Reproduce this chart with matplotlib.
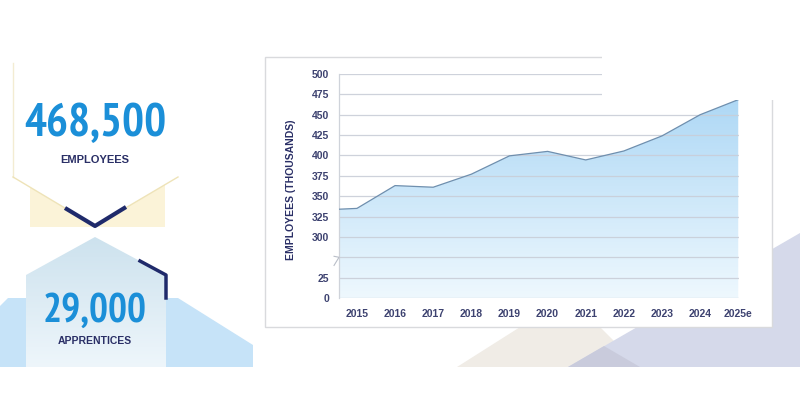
import numpy as np
import matplotlib
matplotlib.use("Agg")
import matplotlib.pyplot as plt
from matplotlib import font_manager as fm
from matplotlib.patches import Polygon, Rectangle
from matplotlib.colors import to_rgb

plt.rcParams['font.family'] = ['Liberation Sans', 'DejaVu Sans']

# data
years = ['2015', '2016', '2017', '2018', '2019', '2020', '2021', '2022', '2023', '2024', '2025e']
employees = [335, 363, 361, 377, 399.5, 405, 394.5, 405.5, 424, 450, 468.5]
y_ticks = [0, 25, 300, 325, 350, 375, 400, 425, 450, 475, 500]
y_tick_labels = [str(v) for v in y_ticks]
headline_employees = '468,500'
headline_apprentices = '29,000'

NAVY = '#2a2f66'
BLUE = '#1b8fd8'
TICK = '#3d4270'


def vgrad(top, bottom, n=256):
    c1 = np.array(to_rgb(top))
    c2 = np.array(to_rgb(bottom))
    t = np.linspace(0, 1, n)[:, None]
    return (c1 * (1 - t) + c2 * t)[:, None, :]


def narrow_bold_font():
    # look for a condensed / narrow bold face among the installed fonts
    best = None
    for f in fm.fontManager.ttflist:
        nm = f.name.lower()
        narrow = 'narrow' in nm or 'condensed' in nm or str(f.stretch) in (
            'condensed', 'semi-condensed', 'extra-condensed', 'ultra-condensed')
        if not narrow:
            continue
        w = f.weight if isinstance(f.weight, int) else fm.weight_dict.get(f.weight, 400)
        if w < 600 or f.style != 'normal':
            continue
        score = 0 if 'narrow' in nm else 1
        if best is None or score < best[0]:
            best = (score, f.fname)
    if best is None:
        return fm.FontProperties(family='DejaVu Sans', weight='bold')
    return fm.FontProperties(fname=best[1])


# broken y axis: 0-50 and 300-500 share the same step, 50-300 squeezed
def fwd(v):
    v = np.asarray(v, dtype=float)
    return np.where(v >= 300, 3 + (v - 300) / 25,
                    np.where(v <= 50, v / 25, 2 + (v - 50) / 250))


def inv(p):
    p = np.asarray(p, dtype=float)
    return np.where(p >= 3, 300 + (p - 3) * 25,
                    np.where(p <= 2, p * 25, 50 + (p - 2) * 250))


fig = plt.figure(figsize=(8, 4), dpi=100)

# ---- background / decorations in pixel coords ----
bg = fig.add_axes([0, 0, 1, 1], zorder=-1)
bg.set_xlim(0, 800)
bg.set_ylim(400, 0)
bg.axis('off')

# bottom right shapes
bg.add_patch(Polygon([(457, 367), (569, 296), (640, 367)], closed=True,
                     facecolor='#f0ece6', edgecolor='none'))
bg.add_patch(Polygon([(568, 367), (800, 233), (800, 367)], closed=True,
                     facecolor='#d5d9ea', edgecolor='none'))
bg.add_patch(Polygon([(568, 367), (604, 346), (640, 367)], closed=True,
                     facecolor='#c9cbdc', edgecolor='none'))

# chart card
bg.add_patch(Rectangle((265, 57), 507, 270, facecolor='white',
                       edgecolor='#d9dadd', lw=1))

# top left badge
bg.add_patch(Rectangle((30, 177), 135, 50, facecolor='#fbf3d8', edgecolor='none'))
bg.add_patch(Polygon([(13, 40), (13, 177), (95, 226), (178, 177), (178, 40)],
                     closed=True, facecolor='white', edgecolor='none'))
bg.plot([13, 13], [63, 177], color='#f3ecd2', lw=1)
bg.plot([13, 95, 178], [177, 226, 177], color='#eee3b8', lw=1)
bg.plot([65, 95, 126], [208, 226, 207], color='#1f2a6b', lw=3, solid_capstyle='butt')

# house
bg.add_patch(Polygon([(0, 367), (0, 306), (8, 298), (178, 298), (253, 345), (253, 367)],
                     closed=True, facecolor='#c6e3f8', edgecolor='none'))
house = Polygon([(26, 367), (26, 275), (95, 237), (166, 275), (166, 367)],
                closed=True, facecolor='none', edgecolor='none')
bg.add_patch(house)
im = bg.imshow(vgrad('#cde2ee', '#eef6fb'), extent=(26, 166, 367, 237),
               aspect='auto', zorder=2)
im.set_clip_path(house)
bg.plot([140, 166, 166], [261, 275, 298], color='#1f2a6b', lw=2.5, zorder=3)

big_font = narrow_bold_font()
t1 = bg.text(95, 124, headline_employees, ha='center', va='center', color=BLUE,
             fontsize=37, fontproperties=big_font)
t2 = bg.text(95, 311, headline_apprentices, ha='center', va='center', color=BLUE,
             fontsize=30, fontproperties=big_font, zorder=4)
# keep the big numbers inside their badges
renderer = fig.canvas.get_renderer()
for t, width in [(t1, 142), (t2, 104)]:
    t.set_fontsize(37 if t is t1 else 30)
    w = t.get_window_extent(renderer).width
    if w > width:
        t.set_fontsize(t.get_fontsize() * width / w)

bg.text(95, 160, 'EMPLOYEES', ha='center', va='center', color=NAVY,
        fontsize=8, fontweight='bold')
bg.text(95, 341, 'APPRENTICES', ha='center', va='center', color=NAVY,
        fontsize=7.5, fontweight='bold', zorder=4)

# ---- chart ----
ax = fig.add_axes([339 / 800, 1 - 298 / 400, 400 / 800, 224 / 400], zorder=1)
ax.set_facecolor('none')
ax.set_yscale('function', functions=(fwd, inv))
x = np.arange(len(years))
x_left = -0.47
ax.set_xlim(x_left, 10.02)
ax.set_ylim(0, 500)

xf = np.r_[x_left, x]
yf = np.r_[employees[0] - 1, employees]
poly = ax.fill_between(xf, 0, yf, facecolor='none', edgecolor='none')
grad = ax.imshow(vgrad('#a6d4f4', '#eef8fe'), extent=(0, 1, 0, 1),
                 transform=ax.transAxes, aspect='auto', zorder=1)
grad.set_clip_path(poly.get_paths()[0], ax.transData)
ax.plot(xf, yf, color='#6f8fae', lw=0.9, zorder=3)

for v in y_ticks + [50]:
    ax.axhline(v, color='#c9ced8', lw=0.9, zorder=2, alpha=0.9)

ax.set_yticks(y_ticks)
ax.set_yticklabels(y_tick_labels)
ax.set_xticks(x)
ax.set_xticklabels(years)
ax.tick_params(axis='y', length=0, pad=7, labelsize=7.5, labelcolor=TICK)
ax.tick_params(axis='x', length=0, pad=8, labelsize=7.5, labelcolor=TICK)
for lab in ax.get_xticklabels() + ax.get_yticklabels():
    lab.set_fontweight('bold')
for s in ['top', 'right', 'bottom']:
    ax.spines[s].set_visible(False)
ax.spines['left'].set_color('#cfd3da')
ax.spines['left'].set_linewidth(0.9)

# break mark on the axis
ax.plot([-0.6, -0.47, -0.6], [62, 50, 40], color='#b9bec8', lw=0.8,
        clip_on=False, zorder=4)

fig.text(291 / 800, 1 - 190 / 400, 'EMPLOYEES (THOUSANDS)', rotation=90,
         ha='center', va='center', color=NAVY, fontsize=7.5, fontweight='bold')

# white cut at the top right corner of the card
fig.add_artist(Rectangle((602 / 800, 0.75), 0.25, 0.25, transform=fig.transFigure,
                         facecolor='white', edgecolor='none', zorder=5))

fig.savefig('out.png', dpi=100, facecolor='white')
